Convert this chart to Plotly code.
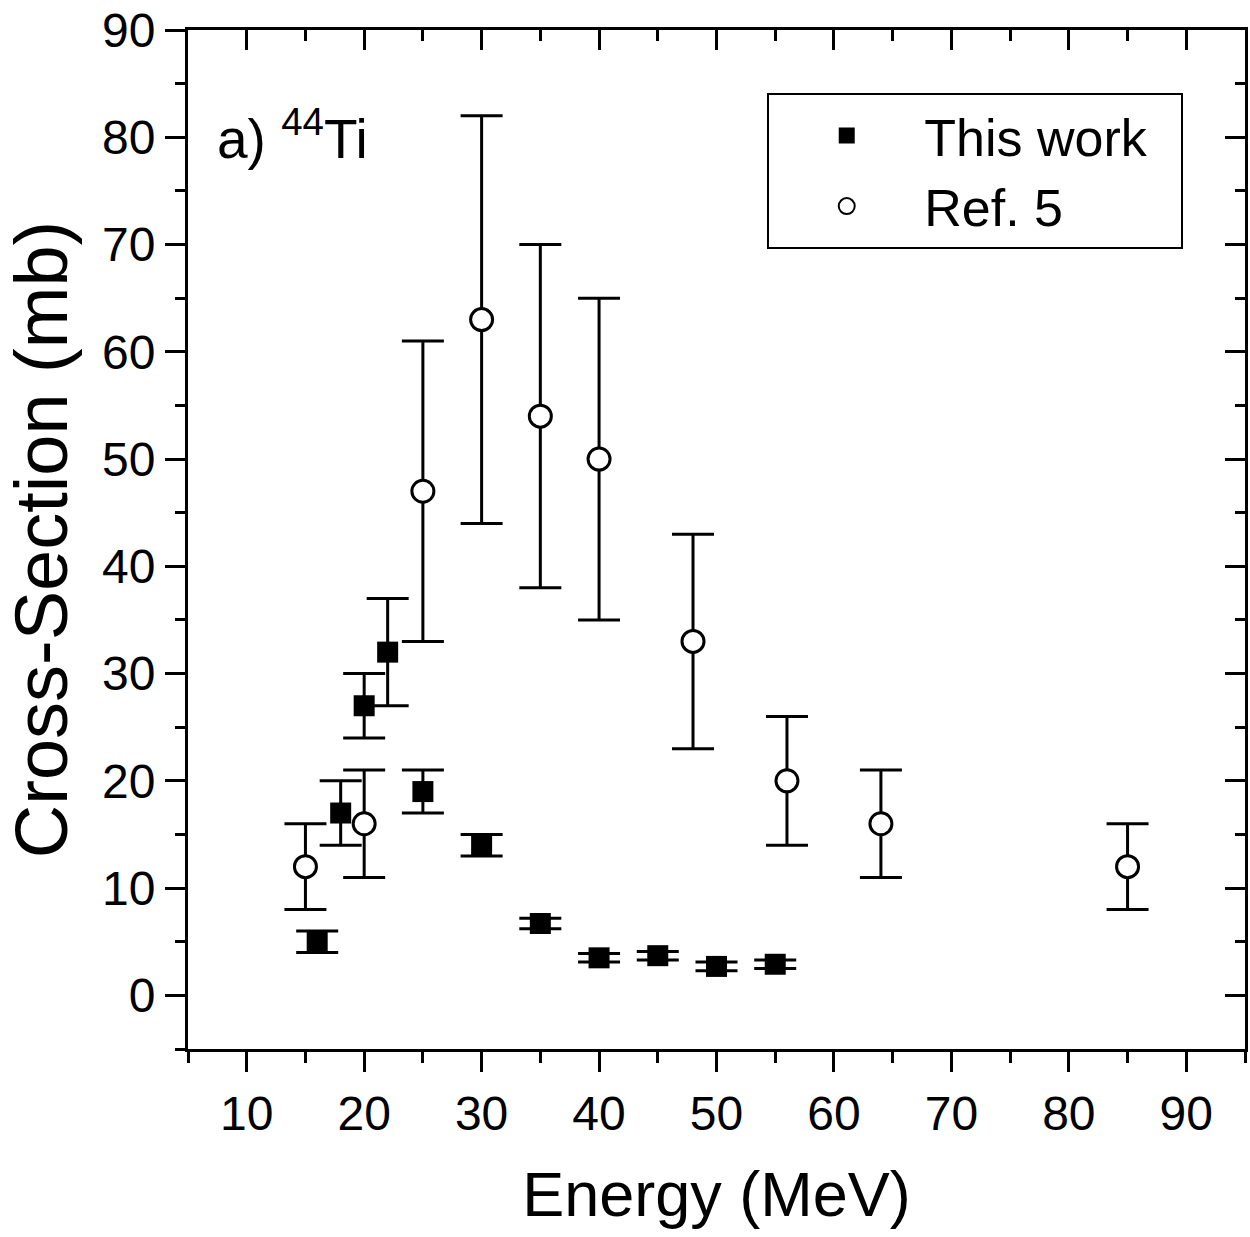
import plotly.graph_objects as go

# ---- data ----
this_E = [16, 18, 20, 22, 25, 30, 35, 40, 45, 50, 55]
this_xs = [5, 17, 27, 32, 19, 14, 6.7, 3.5, 3.7, 2.7, 2.9]
this_err = [1, 3, 3, 5, 2, 1, 0.5, 0.4, 0.4, 0.4, 0.4]

ref_E = [15, 20, 25, 30, 35, 40, 48, 56, 64, 85]
ref_xs = [12, 16, 47, 63, 54, 50, 33, 20, 16, 12]
ref_err = [4, 5, 14, 19, 16, 15, 10, 6, 5, 4]

x_ticks = [10, 20, 30, 40, 50, 60, 70, 80, 90]
y_ticks = [0, 10, 20, 30, 40, 50, 60, 70, 80, 90]

FONT = "Liberation Sans, Arial, Helvetica, sans-serif"
NBSP = "\u00a0"

fig = go.Figure()

fig.add_trace(go.Scatter(
    x=ref_E, y=ref_xs, mode="markers", showlegend=False,
    marker=dict(symbol="circle", size=22, color="white", line=dict(color="black", width=3)),
    error_y=dict(type="data", array=ref_err, width=21, thickness=3, color="black"),
))
fig.add_trace(go.Scatter(
    x=this_E, y=this_xs, mode="markers", showlegend=False,
    marker=dict(symbol="square", size=21, color="black", line=dict(width=0)),
    error_y=dict(type="data", array=this_err, width=21, thickness=3, color="black"),
))
# legend entries
fig.add_trace(go.Scatter(x=[None], y=[None], mode="markers", name="This work" + NBSP * 2,
                         marker=dict(symbol="square", size=16, color="black")))
fig.add_trace(go.Scatter(x=[None], y=[None], mode="markers", name="Ref. 5",
                         marker=dict(symbol="circle", size=16, color="white",
                                     line=dict(color="black", width=2))))
# dummy trace for mirrored axes
fig.add_trace(go.Scatter(x=[None], y=[None], xaxis="x2", yaxis="y2",
                         showlegend=False, hoverinfo="skip"))

common = dict(showgrid=False, zeroline=False, showline=True, linecolor="black",
              linewidth=3, tickwidth=3, tickcolor="black", ticklen=20)

fig.update_layout(
    width=1250, height=1237,
    paper_bgcolor="white", plot_bgcolor="white",
    margin=dict(l=188, r=5, t=30, b=188),
    font=dict(family=FONT, color="black"),
    xaxis=dict(range=[5, 95], tickvals=x_ticks, ticks="outside",
               tickfont=dict(size=48),
               minor=dict(dtick=5, tick0=0, ticks="outside", ticklen=11, tickwidth=3, tickcolor="black"),
               title=dict(text="Energy (MeV)", font=dict(size=63), standoff=34),
               **common),
    yaxis=dict(range=[-5, 90], tickvals=y_ticks, ticks="outside",
               tickfont=dict(size=48),
               minor=dict(dtick=5, tick0=0, ticks="outside", ticklen=10, tickwidth=3, tickcolor="black"),
               title=dict(text="Cross-Section (mb)", font=dict(size=74), standoff=22),
               **common),
    xaxis2=dict(range=[5, 95], overlaying="x", side="top", anchor="y", tickvals=x_ticks,
                ticks="inside", showticklabels=False,
                minor=dict(dtick=5, tick0=0, ticks="inside", ticklen=11, tickwidth=3, tickcolor="black"),
                **common),
    yaxis2=dict(range=[-5, 90], overlaying="y", side="right", anchor="x", tickvals=y_ticks,
                ticks="inside", showticklabels=False,
                minor=dict(dtick=5, tick0=0, ticks="inside", ticklen=10, tickwidth=3, tickcolor="black"),
                **common),
    legend=dict(x=0.548, y=0.938, xanchor="left", yanchor="top",
                bordercolor="black", borderwidth=2, bgcolor="white",
                font=dict(size=52), itemwidth=145, tracegroupgap=0),
    annotations=[dict(text="a) <sup>44</sup>Ti", x=0.026, y=0.897, xref="paper", yref="paper",
                      xanchor="left", yanchor="middle", showarrow=False,
                      font=dict(size=55))],
)

fig.write_html("out.html", config={"displayModeBar": False},
               post_script="document.body.style.margin='0';document.body.style.overflow='hidden';")
